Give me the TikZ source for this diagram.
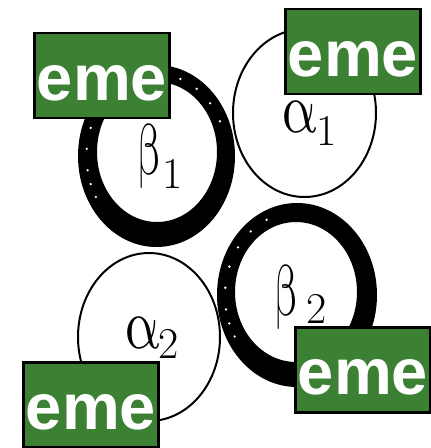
\documentclass[tikz,border=0pt]{standalone}
\usepackage{fontspec}
\usepackage{unicode-math}
\setmathfont{Latin Modern Math}
\newfontfamily\boxfont{Liberation Sans}
\usepackage{graphicx}
\definecolor{emegreen}{RGB}{60,128,52}
\tikzset{
  emebox/.style={draw=black, line width=2.5pt, fill=emegreen, text=white,
    minimum width=135pt, minimum height=85pt, inner sep=0pt,
    text height=49pt, text depth=0pt,
    font=\boxfont\bfseries\fontsize{65}{65}\selectfont},
  thinring/.style={draw=black, line width=2pt},
  thickring/.style={fill=black, even odd rule},
  greek/.style={anchor=base west, inner sep=0pt, font=\fontsize{72}{72}\selectfont}
}
\newcommand\subnum[2]{\raisebox{-#1}{\fontsize{44}{44}\selectfont #2}}
\begin{document}
\begin{tikzpicture}[x=1pt,y=-1pt]
\useasboundingbox (0,0) rectangle (431,448);
\fill[white] (0,0) rectangle (431,448);
% thin rings (alpha)
\draw[thinring] (304.5,113) ellipse [x radius=71.5, y radius=84];
\draw[thinring] (149,337) ellipse [x radius=71, y radius=84];
% thick rings (beta)
\fill[thickring] (156.5,156) ellipse [x radius=78.5, y radius=91]
                 (157,152) ellipse [x radius=60, y radius=70];
\fill[thickring] (297,295) ellipse [x radius=80, y radius=92]
                 (296,292) ellipse [x radius=61, y radius=70];
% white specks in the brush strokes
\foreach \a in {150,160,170,185,200,215,230,245,260,275,290,305,320,335}
  \fill[white] ({156.5+70*cos(\a)},{156+82*sin(\a)}) circle (1.3);
\foreach \a in {150,160,170,185,200,215,230,245}
  \fill[white] ({297+72*cos(\a)},{295+83*sin(\a)}) circle (1.3);
% labels
\node[greek] (b1) at (137,174) {\scalebox{0.6}[1]{$\symup{\beta}$}\hspace{1pt}\subnum{14pt}{1}};
\node[greek] (b2) at (274,315) {\scalebox{0.6}[1]{$\symup{\beta}$}\hspace{8pt}\subnum{8pt}{2}};
\node[greek] (a1) at (281,132) {\scalebox{0.76}[1]{$\symup{\alpha}$}\hspace{-1pt}\subnum{13pt}{1}};
\node[greek] (a2) at (124,348) {\scalebox{0.76}[1]{$\symup{\alpha}$}\hspace{-2pt}\subnum{10pt}{2}};
% boxes
\node[emebox] (e1) at (102,75.5) {eme};
\node[emebox] (e2) at (353,51.5) {eme};
\node[emebox] (e3) at (91,405) {eme};
\node[emebox] (e4) at (363,370) {eme};
\end{tikzpicture}
\end{document}
